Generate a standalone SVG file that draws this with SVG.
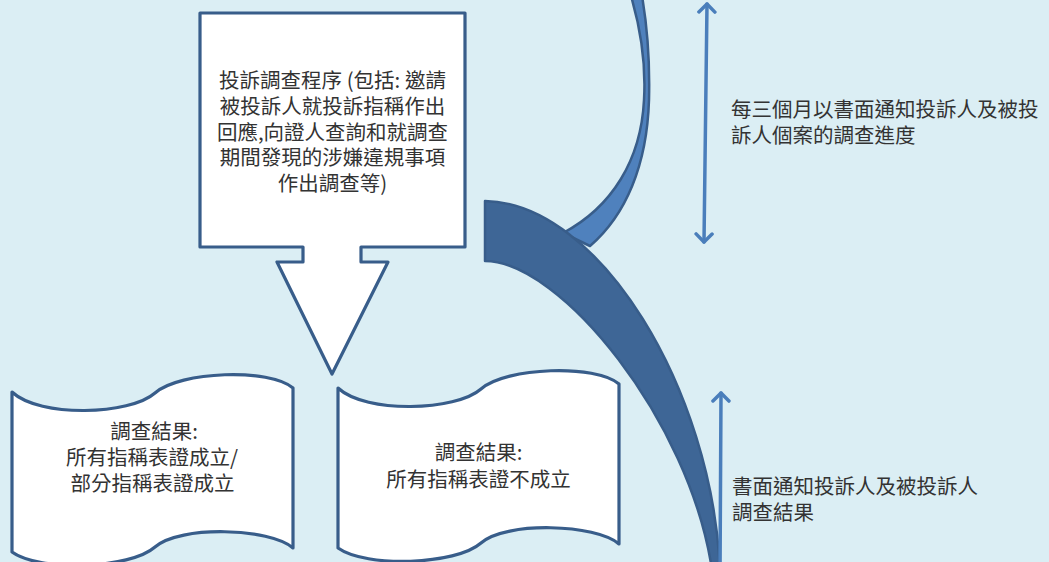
<svg xmlns="http://www.w3.org/2000/svg" width="1049" height="562" viewBox="0 0 1049 562">
<defs>
<style>
.bg{fill:#dbeef4}
.shape{fill:#ffffff;stroke:#385d8a;stroke-width:3.2;stroke-linejoin:round}
.t{font-family:"Noto Sans CJK TC","Noto Sans CJK SC",sans-serif;font-size:20.5px;fill:#333333}
.mid{text-anchor:middle}
.dbl{fill:none;stroke:#4a7ebb;stroke-width:3.5;stroke-linecap:round;stroke-linejoin:round}
.band-light{fill:#4f81bd;stroke:#385d8a;stroke-width:2.5;stroke-linejoin:round}
.band-dark{fill:#3e6696;stroke:#385d8a;stroke-width:2.5;stroke-linejoin:round}
</style>
<marker id="head" viewBox="0 0 20 20" refX="10" refY="10" markerWidth="20" markerHeight="20" markerUnits="userSpaceOnUse" orient="auto-start-reverse">
<path d="M2,2 L10,10 L2,18" fill="none" stroke="#4a7ebb" stroke-width="3.5" stroke-linecap="round" stroke-linejoin="round"/>
</marker>
</defs>
<rect class="bg" x="0" y="0" width="1049" height="562"/>

<g id="connectors">
<path id="curved-arrow-back" class="band-light" d="M631,-4 C641,30 646,65 644,100 C641,160 612,207 563,233 L590,246 C626,215 647,165 649,100 C650,60 647,25 642,-4 Z"/>
<path id="curved-arrow-front" class="band-dark" d="M485,201 C600,203 712,390 720,570 L712,570 C690,420 560,261 485,261 Z"/>
<line id="arrow-progress" class="dbl" x1="707" y1="4" x2="704" y2="242" marker-start="url(#head)" marker-end="url(#head)"/>
<line id="arrow-result" class="dbl" x1="721" y1="393" x2="720" y2="577" marker-start="url(#head)" marker-end="url(#head)"/>
</g>

<g id="node-procedure">
<path class="shape" d="M200,13 H465 V247 H361 V262 H388 L332,374 L277,262 H303 V247 H200 Z"/>
<text class="t mid" x="332.5" y="88">投訴調查程序 (包括: 邀請</text>
<text class="t mid" x="332.5" y="113.8">被投訴人就投訴指稱作出</text>
<text class="t mid" x="332.5" y="139.6">回應,向證人查詢和就調查</text>
<text class="t mid" x="332.5" y="165.4">期間發現的涉嫌違規事項</text>
<text class="t mid" x="332.5" y="191.2">作出調查等)</text>
</g>

<g id="node-substantiated">
<path class="shape" d="M12,392 C40,418 130,415 155,393 C180,371 270,368 293,388 L293,548 C270,528 180,525 155,547 C130,569 40,572 12,552 Z"/>
<text class="t mid" x="154" y="439">調查結果:</text>
<text class="t mid" x="152" y="465">所有指稱表證成立/</text>
<text class="t mid" x="152.5" y="491">部分指稱表證成立</text>
</g>

<g id="node-unsubstantiated">
<path class="shape" d="M338,388 C366,414 456,411 481,389 C506,367 596,364 619,384 L619,544 C596,524 506,521 481,543 C456,565 366,568 338,548 Z"/>
<text class="t mid" x="478.5" y="459.5">調查結果:</text>
<text class="t mid" x="478.5" y="487">所有指稱表證不成立</text>
</g>

<g id="label-progress">
<text class="t" x="731" y="117">每三個月以書面通知投訴人及被投</text>
<text class="t" x="731" y="143">訴人個案的調查進度</text>
</g>

<g id="label-result">
<text class="t" x="732" y="494">書面通知投訴人及被投訴人</text>
<text class="t" x="732" y="520">調查結果</text>
</g>
</svg>
